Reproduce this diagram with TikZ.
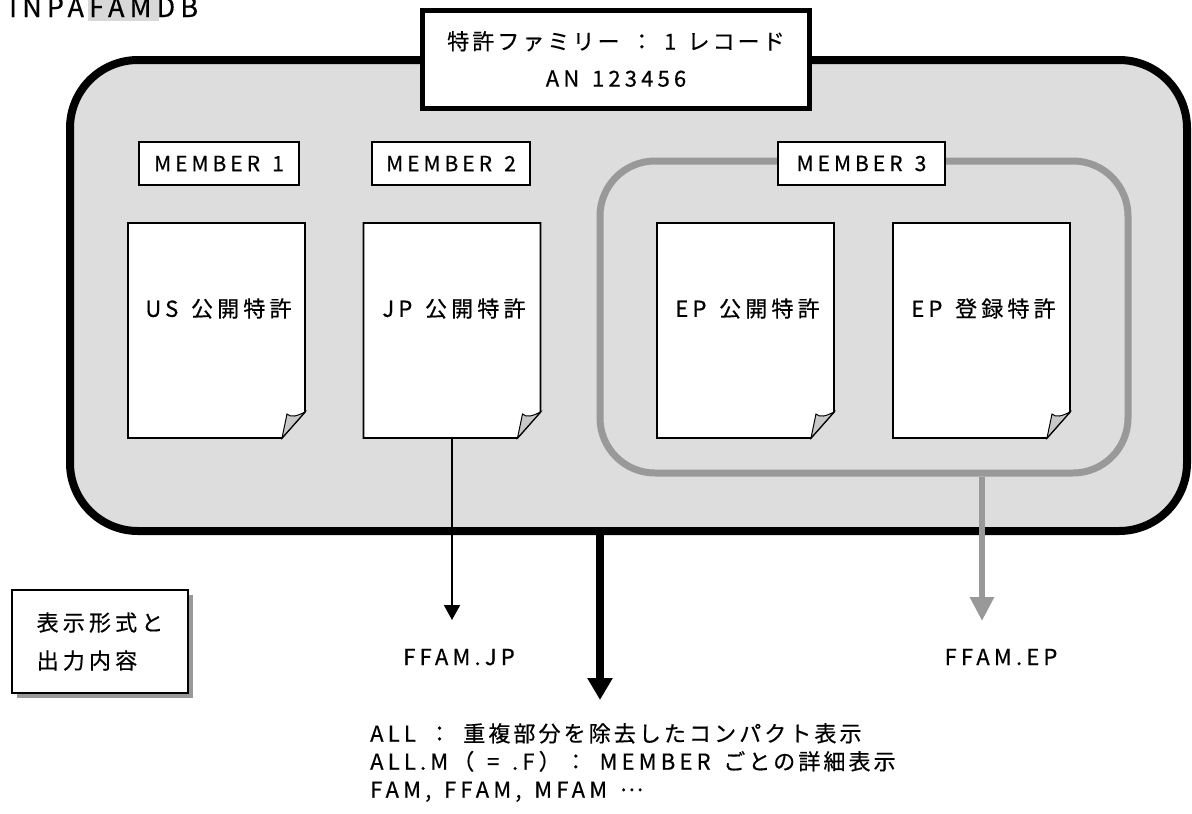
\documentclass[tikz,border=0pt]{standalone}
\usepackage{fontspec}
\setmainfont{Noto Sans CJK JP}[LetterSpace=20]
\newfontfamily\jp{Noto Sans CJK JP}[LetterSpace=19,WordSpace=1.4,FakeBold=0.5]
\newfontfamily\jpn{Noto Sans CJK JP}[LetterSpace=14,WordSpace=1.4,FakeBold=0.5]
\usetikzlibrary{arrows.meta,calc,shadows}
\definecolor{famfill}{HTML}{DDDDDD}
\definecolor{grpline}{HTML}{999999}
\definecolor{foldgray}{HTML}{C8C8C8}
\definecolor{shadowgray}{HTML}{999999}
\definecolor{hilite}{HTML}{D8D8D8}
\newcommand\docoutline[1]{%
  \draw[docline,fill=white] (#1.north west) -- (#1.north east) -- ($(#1.south east)+(0,-26)$) -- ($(#1.south east)+(-23,0)$) -- (#1.south west) -- cycle;
  \draw[docline,fill=foldgray,line width=1pt] ($(#1.south east)+(-23,0)$) .. controls ($(#1.south east)+(-21,-12)$) .. ($(#1.south east)+(-18,-24)$) .. controls ($(#1.south east)+(-14,-20)$) and ($(#1.south east)+(-8,-22)$) .. ($(#1.south east)+(0,-26)$) -- cycle;
}
\begin{document}
\begin{tikzpicture}[x=1pt,y=-1pt,
  txt/.style={font=\jp\fontsize{22}{28}\selectfont,inner sep=0pt},
  docline/.style={draw=black,line width=1.6pt,line join=miter},
  docbox/.style={draw=none,minimum width=177pt,minimum height=215pt,inner sep=0pt,outer sep=0pt},
  membox/.style={draw=black,line width=1.6pt,fill=white,minimum height=43pt,inner sep=0pt,font=\jp\fontsize{21}{26}\selectfont},
]
\useasboundingbox (0,0) rectangle (1192,814);
% title of db
\fill[hilite] (88,0) rectangle (159,21);
\node[txt,font=\jp\fontsize{27}{30}\selectfont,anchor=base west] (db) at (9,17) {INPAFAMDB};
% main family record
\node[draw=black,line width=8pt,fill=famfill,rounded corners=68pt,minimum width=1117pt,minimum height=471pt,inner sep=0pt] (fam) at (628.5,295.5) {};
% title box
\node[draw=black,line width=5pt,fill=white,minimum width=387pt,minimum height=98pt,align=center,inner sep=0pt,font=\jp\fontsize{22}{37}\selectfont] (rec) at (616,59) {{\jpn 特許ファミリー ： 1 レコード}\\AN 123456};
% member 3 group
\node[draw=grpline,line width=7pt,rounded corners=55pt,minimum width=528pt,minimum height=312pt,inner sep=0pt] (grp) at (864,317) {};
% member labels
\node[membox,minimum width=160pt] (m1) at (219,163.5) {MEMBER 1};
\node[membox,minimum width=158pt] (m2) at (451,163.5) {MEMBER 2};
\node[membox,minimum width=167pt] (m3) at (861.5,163.5) {MEMBER 3};
% documents
\node[docbox] (d1) at (216.5,330.5) {};
\node[docbox] (d2) at (452,330.5) {};
\node[docbox] (d3) at (745.5,330.5) {};
\node[docbox] (d4) at (981.5,330.5) {};
\docoutline{d1}\docoutline{d2}\docoutline{d3}\docoutline{d4}
\node[txt] (t1) at ($(d1.center)+(2,-22)$) {US 公開特許};
\node[txt] (t2) at ($(d2.center)+(2,-22)$) {JP 公開特許};
\node[txt] (t3) at ($(d3.center)+(2,-22)$) {EP 公開特許};
\node[txt] (t4) at ($(d4.center)+(2,-22)$) {EP 登録特許};
% outputs
\node[txt,anchor=base] (jp) at (459,665) {FFAM.JP};
\node[txt,anchor=base] (ep) at (1001,665) {FFAM.EP};
\coordinate (allend) at (600,700);
\node[txt,anchor=north west,align=left] (fmt) at (370,723) {ALL ： {\jpn 重複部分を除去したコンパクト表示}\\ALL.M（ = .F）： MEMBER {\jpn ごとの詳細表示}\\FAM, FFAM, MFAM \raisebox{0.3em}{…}};
% arrows
\draw[line width=2pt,-{Triangle[width=16pt,length=15pt]}] (d2.south) -- (d2.south |- 0,620);
\draw[line width=8pt,-{Triangle[width=24pt,length=22pt]}] (fam.south -| allend) -- (allend);
\draw[grpline,line width=6pt,-{Triangle[width=23pt,length=24pt]}] (grp.south -| 982,0) -- (982,621);
% display format box
\node[draw=black,line width=2pt,fill=white,minimum width=176pt,minimum height=103pt,align=left,inner sep=0pt,font=\jp\fontsize{22}{38}\selectfont,drop shadow={shadow xshift=5pt,shadow yshift=-5pt,fill=shadowgray,opacity=1}] (disp) at (100,641.5) {表示形式と\\出力内容};
\end{tikzpicture}
\end{document}
